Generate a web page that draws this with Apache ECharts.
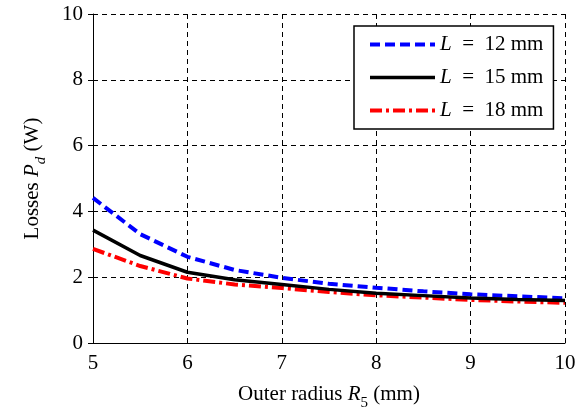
<!DOCTYPE html>
<html>
<head>
    <meta charset="utf-8" />
    <title>Losses vs outer radius</title>
    <script src="https://cdn.jsdelivr.net/npm/echarts@6.0.0/dist/echarts.min.js"></script>
    <style>
        body { margin: 0; background: #fff; }
        #main { width: 583px; height: 416px; }
    </style>
</head>
<body>
<div id="main"></div>
<script>
    // outer radius R5 (mm)
    let radius = [5, 5.5, 6, 6.5, 7, 7.5, 8, 8.5, 9, 9.5, 10]
    let lossL12 = [4.41, 3.31, 2.62, 2.22, 1.98, 1.80, 1.68, 1.57, 1.48, 1.42, 1.36]
    let lossL15 = [3.43, 2.66, 2.15, 1.92, 1.78, 1.63, 1.51, 1.44, 1.37, 1.32, 1.29]
    let lossL18 = [2.86, 2.34, 1.96, 1.78, 1.67, 1.55, 1.45, 1.38, 1.31, 1.26, 1.22]
    let seriesNames = ['L = 12 mm', 'L = 15 mm', 'L = 18 mm']

    let fontFam = 'Liberation Serif'

    function pairs(ys) {
        return radius.map(function (x, i) { return [x, ys[i]] })
    }

    let tickLabel = {
        fontFamily: fontFam,
        fontSize: 21,
        color: '#000',
        margin: 10,
        formatter: function (v) { return '{v|' + v + '}' },
        rich: {
            v: { fontFamily: fontFam, fontSize: 21, color: '#000' }
        }
    }

    let chart = echarts.init(document.getElementById('main'))

    chart.setOption({
        animation: false,
        textStyle: { fontFamily: fontFam, color: '#000' },
        grid: { left: 93, right: 18, top: 14, bottom: 69 },
        legend: {
            orient: 'vertical',
            left: 354,
            top: 26,
            padding: [8, 10, 8, 14],
            itemWidth: 65,
            itemHeight: 20,
            itemGap: 12,
            borderColor: '#000',
            borderWidth: 1.5,
            backgroundColor: '#fff',
            itemStyle: { opacity: 0 },
            data: [
                { name: seriesNames[0], lineStyle: { width: 4 } },
                { name: seriesNames[1], lineStyle: { width: 3.5 } },
                { name: seriesNames[2], lineStyle: { width: 4 } }
            ],
            formatter: function (name) {
                return '{i|L}  =  ' + name.slice(4)
            },
            textStyle: {
                fontFamily: fontFam,
                fontSize: 21,
                color: '#000',
                rich: {
                    i: { fontStyle: 'italic', fontFamily: fontFam, fontSize: 21 }
                }
            }
        },
        xAxis: {
            type: 'value',
            min: 5,
            max: 10,
            interval: 1,
            name: '{a|Outer radius }{i|R}{s|5}{a| (mm)}',
            nameLocation: 'middle',
            nameGap: 41,
            nameTextStyle: {
                rich: {
                    a: { fontFamily: fontFam, fontSize: 21, verticalAlign: 'bottom', padding: [0, 0, 6, 0] },
                    i: { fontFamily: fontFam, fontSize: 21, fontStyle: 'italic', verticalAlign: 'bottom', padding: [0, 0, 6, 0] },
                    s: { fontFamily: fontFam, fontSize: 15, verticalAlign: 'bottom' }
                }
            },
            axisLine: { lineStyle: { color: '#000', width: 1 } },
            axisTick: { inside: true, length: 5, lineStyle: { color: '#000' } },
            axisLabel: tickLabel,
            splitLine: { show: true, lineStyle: { color: '#000', type: [5, 4], width: 1 } }
        },
        yAxis: {
            type: 'value',
            min: 0,
            max: 10,
            interval: 2,
            name: '{a|Losses }{i|P}{s|d}{a| (W)}',
            nameLocation: 'middle',
            nameGap: 44,
            nameRotate: 90,
            nameTextStyle: {
                rich: {
                    a: { fontFamily: fontFam, fontSize: 21, verticalAlign: 'bottom', padding: [0, 0, 6, 0] },
                    i: { fontFamily: fontFam, fontSize: 21, fontStyle: 'italic', verticalAlign: 'bottom', padding: [0, 0, 6, 0] },
                    s: { fontFamily: fontFam, fontSize: 15, fontStyle: 'italic', verticalAlign: 'bottom' }
                }
            },
            axisLine: { show: true, lineStyle: { color: '#000', width: 1 } },
            axisTick: { show: true, inside: false, length: 5, lineStyle: { color: '#000' } },
            axisLabel: tickLabel,
            splitLine: { show: true, lineStyle: { color: '#000', type: [5, 4], width: 1 } }
        },
        series: [
            {
                name: seriesNames[0],
                type: 'line',
                symbol: 'none',
                data: pairs(lossL12),
                lineStyle: { color: '#0000ff', width: 4, type: [10, 5] },
                itemStyle: { color: '#0000ff' },
                z: 3
            },
            {
                name: seriesNames[1],
                type: 'line',
                symbol: 'none',
                data: pairs(lossL15),
                lineStyle: { color: '#000', width: 3.5, type: 'solid' },
                itemStyle: { color: '#000' },
                z: 4
            },
            {
                name: seriesNames[2],
                type: 'line',
                symbol: 'none',
                data: pairs(lossL18),
                lineStyle: { color: '#ff0000', width: 4, type: [12, 4, 3, 4] },
                itemStyle: { color: '#ff0000' },
                z: 3
            }
        ]
    })
</script>
</body>
</html>
